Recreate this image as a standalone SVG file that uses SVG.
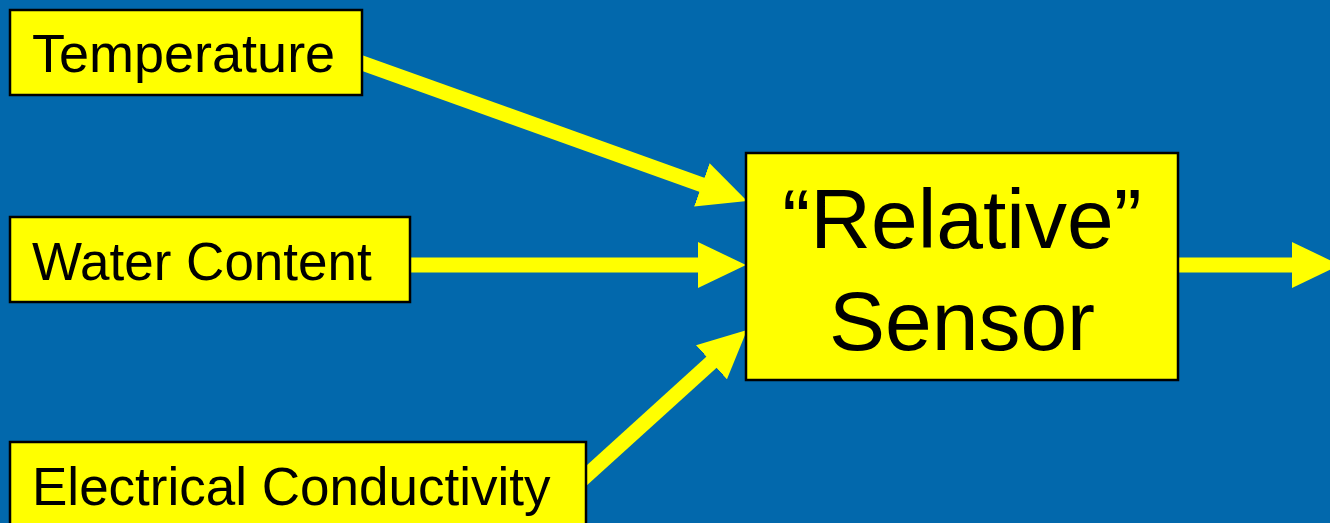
<svg xmlns="http://www.w3.org/2000/svg" width="1330" height="523" viewBox="0 0 1330 523">
<style>
.box{fill:#FFFF00;stroke:#000;stroke-width:2.5}
.lbl{font-family:"Liberation Sans",Arial,sans-serif;font-size:53px;fill:#000}
.big{font-family:"Liberation Sans",Arial,sans-serif;font-size:84px;fill:#000;text-anchor:middle}
.conn{stroke:#FFFF00;stroke-width:15;fill:none;marker-end:url(#head)}
</style>
<defs>
<marker id="head" markerUnits="userSpaceOnUse" viewBox="0 0 48 46" markerWidth="48" markerHeight="46" refX="8" refY="23" orient="auto">
<path d="M0,0 L48,23 L0,46 z" fill="#FFFF00"/>
</marker>
</defs>
<rect width="1330" height="523" fill="#0268AC"/>
<g id="connectors">
<line class="conn" x1="355" y1="60.5" x2="709.4" y2="187.5"/>
<line class="conn" x1="400" y1="265" x2="706" y2="265"/>
<line class="conn" x1="580" y1="481.5" x2="717.4" y2="356.9"/>
<line class="conn" x1="1170" y1="265" x2="1300" y2="265"/>
</g>
<g id="temperature">
<rect class="box" x="10" y="10" width="352" height="85"/>
<text class="lbl" x="32" y="72" style="font-size:54px">Temperature</text>
</g>
<g id="water-content">
<rect class="box" x="10" y="217" width="400" height="85"/>
<text class="lbl" x="32" y="280">Water Content</text>
</g>
<g id="electrical-conductivity">
<rect class="box" x="10" y="442" width="576" height="100"/>
<text class="lbl" x="32" y="505">Electrical Conductivity</text>
</g>
<g id="relative-sensor">
<rect class="box" x="746" y="153" width="432" height="227"/>
<text class="big" x="962" y="248">“Relative”</text>
<text class="big" x="962" y="350">Sensor</text>
</g>
</svg>
